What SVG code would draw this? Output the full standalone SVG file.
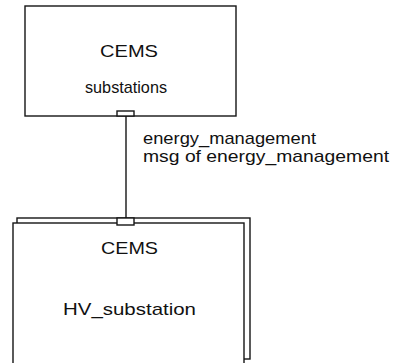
<svg xmlns="http://www.w3.org/2000/svg" width="394" height="363" viewBox="0 0 394 363">
  <style>
    .box { fill: #ffffff; stroke: #151515; stroke-width: 1.4; }
    .port { fill: #ffffff; stroke: #151515; stroke-width: 1.4; }
    .wire { fill: none; stroke: #151515; stroke-width: 1.4; }
    .lbl { font-family: "Liberation Sans", Arial, sans-serif; font-size: 17px; fill: #111111; }
  </style>
  <rect width="394" height="363" fill="#ffffff"/>

  <!-- connector between the two blocks, with its label -->
  <g id="connectors">
    <line class="wire" x1="126" y1="116" x2="126" y2="219"/>
    <text class="lbl" x="143" y="144" textLength="173" lengthAdjust="spacingAndGlyphs">energy_management</text>
    <text class="lbl" x="143" y="162" textLength="246" lengthAdjust="spacingAndGlyphs">msg of energy_management</text>
  </g>

  <!-- upper block -->
  <g id="cems-substations">
    <rect class="box" x="25" y="6" width="211" height="110"/>
    <text class="lbl" x="100" y="57" textLength="58" lengthAdjust="spacingAndGlyphs">CEMS</text>
    <text class="lbl" x="85" y="93" textLength="82" lengthAdjust="spacingAndGlyphs">substations</text>
    <rect class="port" x="117" y="111" width="17" height="5"/>
  </g>

  <!-- lower block: stacked (multiple instance) frame -->
  <g id="cems-hv-substation">
    <rect class="box" x="17" y="218" width="233" height="141"/>
    <rect class="box" x="13" y="223" width="231" height="150"/>
    <text class="lbl" x="101" y="254" textLength="57" lengthAdjust="spacingAndGlyphs">CEMS</text>
    <text class="lbl" x="63" y="315" textLength="133" lengthAdjust="spacingAndGlyphs">HV_substation</text>
    <rect class="port" x="117" y="218" width="17" height="7"/>
  </g>
</svg>
